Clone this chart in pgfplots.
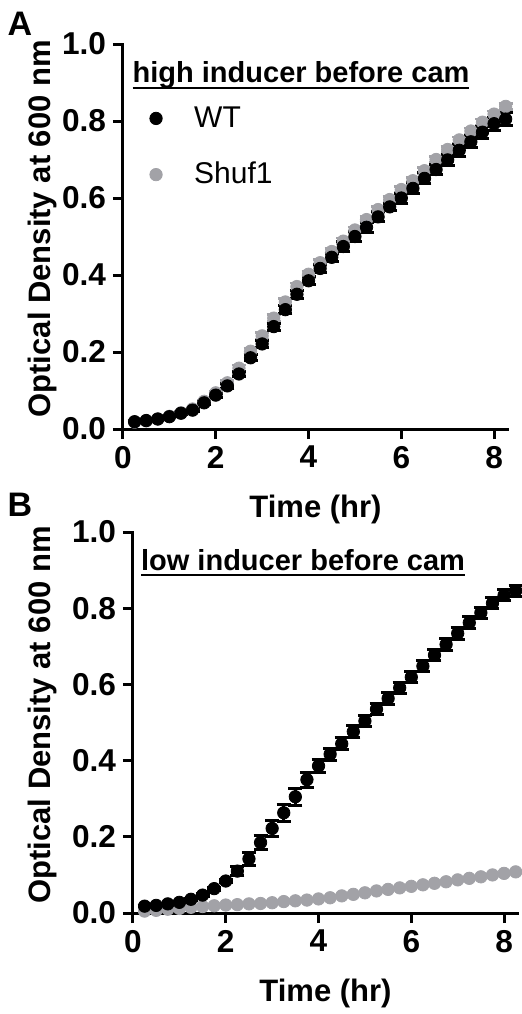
\documentclass[border=0pt]{standalone}
\usepackage{fontspec}
\setmainfont{Liberation Sans}
\usepackage{pgfplots}
\pgfplotsset{compat=1.18}
\definecolor{shufgray}{RGB}{162,162,167}
% thick underline for the panel titles
\newcommand\ulbox[1]{\setbox0\hbox{#1}\rlap{\rule[-3pt]{\wd0}{1pt}}\box0}
\newcommand\labfont{\bfseries\fontsize{15.5}{18}\selectfont}

\pgfplotsset{
  odpanel/.style={
    scale only axis, width=192.5pt,
    xmin=0, xmax=8.3, ymin=0, ymax=1.0,
    axis x line*=bottom, axis y line*=left,
    axis line style={line width=1.5pt, line cap=rect},
    tick align=outside, major tick length=5pt,
    tick style={line width=1.5pt, black},
    xtick={0,2,4,6,8}, ytick={0,0.2,0.4,0.6,0.8,1.0},
    minor tick num=0,
    /pgf/number format/assume math mode=true,
    tick label style={font=\bfseries\fontsize{15.8}{18}\selectfont},
    y tick label style={/pgf/number format/fixed, /pgf/number format/fixed zerofill, /pgf/number format/precision=1},
    xlabel={Time (hr)}, ylabel={Optical Density at 600 nm},
    every axis x label/.style={at={(axis description cs:0.5,0)}, yshift=-40pt, anchor=center, font=\labfont},
    clip=false,
  },
  wt/.style={only marks, mark=*, mark size=3.1pt, black,
    error bars/.cd, y dir=both, y explicit,
    error bar style={line width=1.5pt, black},
    error mark options={rotate=90, mark size=3.5pt, line width=1.5pt, black}},
  shuf/.style={only marks, mark=*, mark size=3.1pt, shufgray,
    error bars/.cd, y dir=both, y explicit,
    error bar style={line width=1.2pt, shufgray},
    error mark options={rotate=90, mark size=3.5pt, line width=1.2pt, shufgray}},
}

\begin{document}
\begin{tikzpicture}
\useasboundingbox (0pt,0pt) rectangle (261pt,-507pt);

\node[font=\bfseries\fontsize{17}{19}\selectfont] at (10pt,-12pt) {A};
\node[font=\bfseries\fontsize{17}{19}\selectfont] at (10pt,-252.5pt) {B};

% ---------- panel A ----------
\begin{axis}[odpanel, height=192.5pt,
  at={(61.5pt,-214.5pt)}, anchor=south west,
  every axis y label/.style={at={(axis description cs:-0.21,0.52)}, rotate=90, anchor=center, font=\labfont},
  legend style={draw=none, fill=none, at={(axis cs:0.57,0.733)}, anchor=west,
    font=\fontsize{15}{18}\selectfont, row sep=12pt, inner sep=0pt,
    /tikz/every odd column/.style={column sep=14pt}},
  legend cell align=left,
  legend image code/.code={\draw[#1] plot coordinates {(0pt,0pt)};},
]
\addlegendimage{only marks, mark=*, mark size=3.1pt, black}
\addlegendentry{WT}
\addlegendimage{only marks, mark=*, mark size=3.1pt, shufgray}
\addlegendentry{Shuf1}

\addplot[forget plot, shuf] coordinates {
(0.25,0.018) +- (0,0.002)
(0.50,0.021) +- (0,0.002)
(0.75,0.026) +- (0,0.002)
(1.00,0.033) +- (0,0.003)
(1.25,0.042) +- (0,0.003)
(1.50,0.052) +- (0,0.003)
(1.75,0.072) +- (0,0.004)
(2.00,0.094) +- (0,0.005)
(2.25,0.120) +- (0,0.006)
(2.50,0.158) +- (0,0.008)
(2.75,0.202) +- (0,0.008)
(3.00,0.242) +- (0,0.009)
(3.25,0.288) +- (0,0.009)
(3.50,0.330) +- (0,0.009)
(3.75,0.370) +- (0,0.009)
(4.00,0.402) +- (0,0.008)
(4.25,0.432) +- (0,0.008)
(4.50,0.461) +- (0,0.008)
(4.75,0.488) +- (0,0.008)
(5.00,0.517) +- (0,0.008)
(5.25,0.544) +- (0,0.008)
(5.50,0.570) +- (0,0.008)
(5.75,0.596) +- (0,0.008)
(6.00,0.622) +- (0,0.008)
(6.25,0.645) +- (0,0.008)
(6.50,0.671) +- (0,0.008)
(6.75,0.700) +- (0,0.008)
(7.00,0.726) +- (0,0.008)
(7.25,0.751) +- (0,0.008)
(7.50,0.774) +- (0,0.008)
(7.75,0.797) +- (0,0.008)
(8.00,0.818) +- (0,0.008)
(8.25,0.838) +- (0,0.008)
};
\addplot[forget plot, wt] coordinates {
(0.25,0.019) +- (0,0.002)
(0.50,0.022) +- (0,0.002)
(0.75,0.026) +- (0,0.002)
(1.00,0.032) +- (0,0.003)
(1.25,0.041) +- (0,0.003)
(1.50,0.049) +- (0,0.003)
(1.75,0.068) +- (0,0.004)
(2.00,0.088) +- (0,0.005)
(2.25,0.112) +- (0,0.006)
(2.50,0.143) +- (0,0.007)
(2.75,0.185) +- (0,0.008)
(3.00,0.221) +- (0,0.008)
(3.25,0.266) +- (0,0.009)
(3.50,0.310) +- (0,0.010)
(3.75,0.350) +- (0,0.010)
(4.00,0.385) +- (0,0.010)
(4.25,0.417) +- (0,0.011)
(4.50,0.446) +- (0,0.011)
(4.75,0.474) +- (0,0.012)
(5.00,0.500) +- (0,0.012)
(5.25,0.524) +- (0,0.013)
(5.50,0.551) +- (0,0.013)
(5.75,0.577) +- (0,0.010)
(6.00,0.600) +- (0,0.013)
(6.25,0.625) +- (0,0.014)
(6.50,0.651) +- (0,0.014)
(6.75,0.674) +- (0,0.014)
(7.00,0.699) +- (0,0.015)
(7.25,0.724) +- (0,0.015)
(7.50,0.746) +- (0,0.016)
(7.75,0.771) +- (0,0.016)
(8.00,0.793) +- (0,0.017)
(8.25,0.805) +- (0,0.017)
};
\node[anchor=base west, inner sep=0pt, font=\bfseries\fontsize{14.5}{17}\selectfont]
  at (axis cs:0.2,0.899) {\ulbox{high inducer before cam}};
\end{axis}

% ---------- panel B ----------
\begin{axis}[odpanel, height=190.5pt,
  at={(66.5pt,-456.5pt)}, anchor=south west,
  every axis y label/.style={at={(axis description cs:-0.236,0.52)}, rotate=90, anchor=center, font=\labfont},
]
\addplot[shuf] coordinates {
(0.25,0.005) +- (0,0.001)
(0.50,0.007) +- (0,0.001)
(0.75,0.010) +- (0,0.001)
(1.00,0.012) +- (0,0.001)
(1.25,0.015) +- (0,0.001)
(1.50,0.017) +- (0,0.001)
(1.75,0.019) +- (0,0.001)
(2.00,0.021) +- (0,0.001)
(2.25,0.022) +- (0,0.001)
(2.50,0.024) +- (0,0.001)
(2.75,0.025) +- (0,0.001)
(3.00,0.027) +- (0,0.001)
(3.25,0.030) +- (0,0.001)
(3.50,0.032) +- (0,0.001)
(3.75,0.034) +- (0,0.001)
(4.00,0.037) +- (0,0.001)
(4.25,0.040) +- (0,0.001)
(4.50,0.045) +- (0,0.001)
(4.75,0.049) +- (0,0.001)
(5.00,0.053) +- (0,0.001)
(5.25,0.058) +- (0,0.001)
(5.50,0.062) +- (0,0.001)
(5.75,0.066) +- (0,0.001)
(6.00,0.070) +- (0,0.001)
(6.25,0.074) +- (0,0.001)
(6.50,0.078) +- (0,0.001)
(6.75,0.082) +- (0,0.001)
(7.00,0.087) +- (0,0.001)
(7.25,0.091) +- (0,0.001)
(7.50,0.095) +- (0,0.001)
(7.75,0.100) +- (0,0.001)
(8.00,0.104) +- (0,0.001)
(8.25,0.108) +- (0,0.001)
};
\addplot[wt] coordinates {
(0.25,0.018) +- (0,0.002)
(0.50,0.020) +- (0,0.002)
(0.75,0.024) +- (0,0.002)
(1.00,0.028) +- (0,0.003)
(1.25,0.036) +- (0,0.003)
(1.50,0.047) +- (0,0.004)
(1.75,0.064) +- (0,0.004)
(2.00,0.084) +- (0,0.005)
(2.25,0.110) +- (0,0.012)
(2.50,0.142) +- (0,0.018)
(2.75,0.185) +- (0,0.018)
(3.00,0.222) +- (0,0.020)
(3.25,0.263) +- (0,0.023)
(3.50,0.305) +- (0,0.022)
(3.75,0.350) +- (0,0.020)
(4.00,0.386) +- (0,0.018)
(4.25,0.417) +- (0,0.016)
(4.50,0.444) +- (0,0.016)
(4.75,0.476) +- (0,0.015)
(5.00,0.504) +- (0,0.015)
(5.25,0.535) +- (0,0.015)
(5.50,0.563) +- (0,0.015)
(5.75,0.591) +- (0,0.015)
(6.00,0.619) +- (0,0.015)
(6.25,0.648) +- (0,0.015)
(6.50,0.677) +- (0,0.015)
(6.75,0.705) +- (0,0.015)
(7.00,0.734) +- (0,0.015)
(7.25,0.762) +- (0,0.015)
(7.50,0.788) +- (0,0.015)
(7.75,0.813) +- (0,0.014)
(8.00,0.834) +- (0,0.014)
(8.25,0.846) +- (0,0.014)
};
\node[anchor=base west, inner sep=0pt, font=\bfseries\fontsize{14.5}{17}\selectfont]
  at (axis cs:0.166,0.90) {\ulbox{low inducer before cam}};
\end{axis}
\end{tikzpicture}
\end{document}
